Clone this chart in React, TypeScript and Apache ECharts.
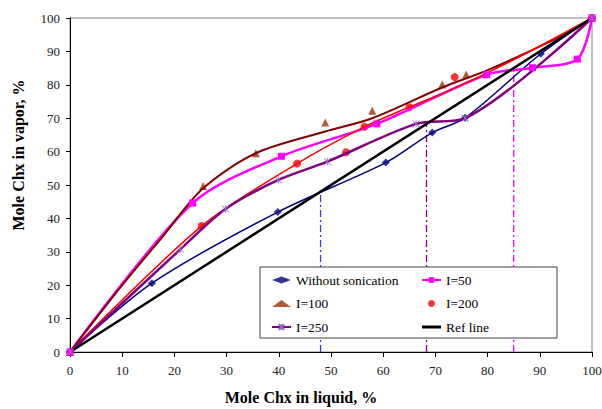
import React, { useEffect, useRef } from "react";
import * as echarts from "echarts";

// Without sonication
const noSonX = [0, 15.7, 39.8, 60.5, 69.4, 75.7, 90.2, 100];
const noSonY = [0, 20.6, 41.9, 56.7, 65.7, 70.1, 89.3, 100];
// I=50
const i50X = [0, 23.5, 40.5, 58.8, 79.8, 88.6, 97.2, 100];
const i50Y = [0, 44.6, 58.6, 68.3, 83.0, 85.1, 87.7, 100];
// I=100 markers and trend curve
const i100X = [0, 25.5, 35.6, 48.9, 57.9, 71.3, 75.9, 100];
const i100Y = [0, 49.7, 59.5, 68.7, 72.2, 80.1, 83.1, 100];
const i100CurveX = [0, 10, 17.2, 25.5, 35.6, 48.9, 57.9, 71.3, 80, 92.5, 100];
const i100CurveY = [0, 20, 33.5, 49, 59.5, 66, 70, 79.2, 84.4, 93.4, 100];
// I=200 markers and trend curve
const i200X = [0, 25.2, 43.5, 52.9, 56.4, 65, 73.7, 100];
const i200Y = [0, 37.7, 56.4, 59.8, 67.4, 73.3, 82.3, 100];
const i200CurveX = [0, 25.2, 43.5, 56.4, 65, 73.7, 85, 100];
const i200CurveY = [0, 37.7, 56.4, 67.4, 73.3, 79, 87.5, 100];
// I=250
const i250X = [0, 21.1, 29.8, 39.9, 49.3, 66.3, 75.7, 100];
const i250Y = [0, 30.7, 42.8, 51.5, 57.0, 68.3, 70.0, 100];
// Reference line
const refX = [0, 100];
const refY = [0, 100];
// Vertical guide lines (x positions and heights)
const guideX = [48, 68.3, 85];
const guideTop = [48, 68.3, 85];
const guideColors = ["#3333ff", "#800080", "#ff00ff"];

const legendLeft = ["Without sonication", "I=100", "I=250"];
const legendRight = ["I=50", "I=200", "Ref line"];

const FONT = "'Liberation Serif', serif";
const zip = (xs: number[], ys: number[]) => xs.map((x, i) => [x, ys[i]]);
const STAR = "path://M0,0L10,10M0,10L10,0M5,0L5,10";
const LINE_ICON = "path://M0,0L19,0L19,3L0,3Z";

export default function App() {
  const ref = useRef<HTMLDivElement>(null);
  useEffect(() => {
    if (!ref.current) return;
    const chart = echarts.init(ref.current, undefined, { renderer: "svg" });
    const guides = guideX.map((x, i) => ({
      type: "line",
      data: [
        [x, 0],
        [x, guideTop[i]],
      ],
      symbol: "none",
      silent: true,
      z: 1,
      lineStyle: { color: guideColors[i], width: 1.3, type: [7, 3, 2, 3] },
    }));
    const legendCommon = {
      orient: "vertical",
      top: 273,
      padding: 0,
      itemWidth: 19,
      itemHeight: 7,
      itemGap: 9.5,
      textStyle: { fontFamily: FONT, fontSize: 13.5, color: "#000" },
    };
    chart.setOption({
      animation: false,
      backgroundColor: "#fff",
      textStyle: { fontFamily: FONT },
      grid: {
        left: 70,
        right: 10,
        top: 18,
        bottom: 57,
        show: true,
        borderColor: "#808080",
        borderWidth: 1,
        outerBoundsMode: "none",
      },
      xAxis: {
        type: "value",
        min: 0,
        max: 100,
        interval: 10,
        axisLine: { show: true, lineStyle: { color: "#000", width: 1 } },
        axisTick: { show: true, inside: false, length: 5, lineStyle: { color: "#000" } },
        axisLabel: { fontFamily: FONT, fontSize: 13, color: "#222", margin: 12 },
        splitLine: { show: false },
      },
      yAxis: {
        type: "value",
        min: 0,
        max: 100,
        interval: 10,
        axisLine: { show: true, lineStyle: { color: "#000", width: 1 } },
        axisTick: { show: true, inside: false, length: 4, lineStyle: { color: "#000" } },
        axisLabel: { fontFamily: FONT, fontSize: 13, color: "#222", margin: 10 },
        splitLine: { show: false },
      },
      legend: [
        { ...legendCommon, left: 271, data: legendLeft },
        {
          ...legendCommon,
          left: 421,
          data: [legendRight[0], legendRight[1], { name: legendRight[2], icon: LINE_ICON }],
        },
      ],
      graphic: [
        {
          type: "rect",
          z: 3,
          shape: { x: 260, y: 267, width: 297, height: 71 },
          style: { fill: "#fff", stroke: "#404040", lineWidth: 1 },
        },
        {
          type: "text",
          x: 18,
          y: 155,
          rotation: Math.PI / 2,
          style: {
            text: "Mole Chx in vapor, %",
            fontFamily: FONT,
            fontSize: 16,
            fontWeight: "bold",
            fill: "#000",
            align: "center",
            verticalAlign: "middle",
          },
        },
        {
          type: "text",
          x: 301,
          y: 397,
          style: {
            text: "Mole Chx in liquid, %",
            fontFamily: FONT,
            fontSize: 16,
            fontWeight: "bold",
            fill: "#000",
            align: "center",
            verticalAlign: "middle",
          },
        },
      ],
      series: [
        ...guides,
        {
          type: "line",
          data: zip(noSonX, noSonY),
          smooth: 0.3,
          symbol: "none",
          silent: true,
          lineStyle: { color: "#000080", width: 1.5 },
        },
        {
          name: "Without sonication",
          type: "scatter",
          data: zip(noSonX, noSonY),
          symbol: "diamond",
          symbolSize: 8,
          itemStyle: { color: "#000080" },
        },
        {
          name: "I=50",
          type: "line",
          data: zip(i50X, i50Y),
          smooth: 0.3,
          symbol: "rect",
          symbolSize: 7,
          itemStyle: { color: "#ff00ff" },
          lineStyle: { color: "#ff00ff", width: 2.5 },
        },
        {
          type: "line",
          data: zip(i100CurveX, i100CurveY),
          smooth: 0.3,
          symbol: "none",
          silent: true,
          lineStyle: { color: "#800000", width: 2 },
        },
        {
          name: "I=100",
          type: "scatter",
          data: zip(i100X, i100Y),
          symbol: "triangle",
          symbolSize: 8,
          itemStyle: { color: "#993300" },
        },
        {
          type: "line",
          data: zip(i200CurveX, i200CurveY),
          smooth: 0.3,
          symbol: "none",
          silent: true,
          lineStyle: { color: "#ff0000", width: 1.5 },
        },
        {
          name: "I=200",
          type: "scatter",
          data: zip(i200X, i200Y),
          symbol: "circle",
          symbolSize: 8,
          itemStyle: { color: "#ff0000" },
        },
        {
          name: "I=250",
          type: "line",
          data: zip(i250X, i250Y),
          smooth: 0.3,
          symbol: STAR,
          symbolSize: 7,
          itemStyle: { color: "#9966cc", borderColor: "#9966cc", borderWidth: 1 },
          lineStyle: { color: "#800080", width: 2.5 },
        },
        {
          name: "Ref line",
          type: "line",
          data: zip(refX, refY),
          symbol: "none",
          lineStyle: { color: "#000", width: 2.5 },
          itemStyle: { color: "#000" },
        },
      ],
    });
    return () => chart.dispose();
  }, []);
  return <div ref={ref} style={{ width: 602, height: 409, position: "absolute", left: 0, top: 0 }} />;
}
